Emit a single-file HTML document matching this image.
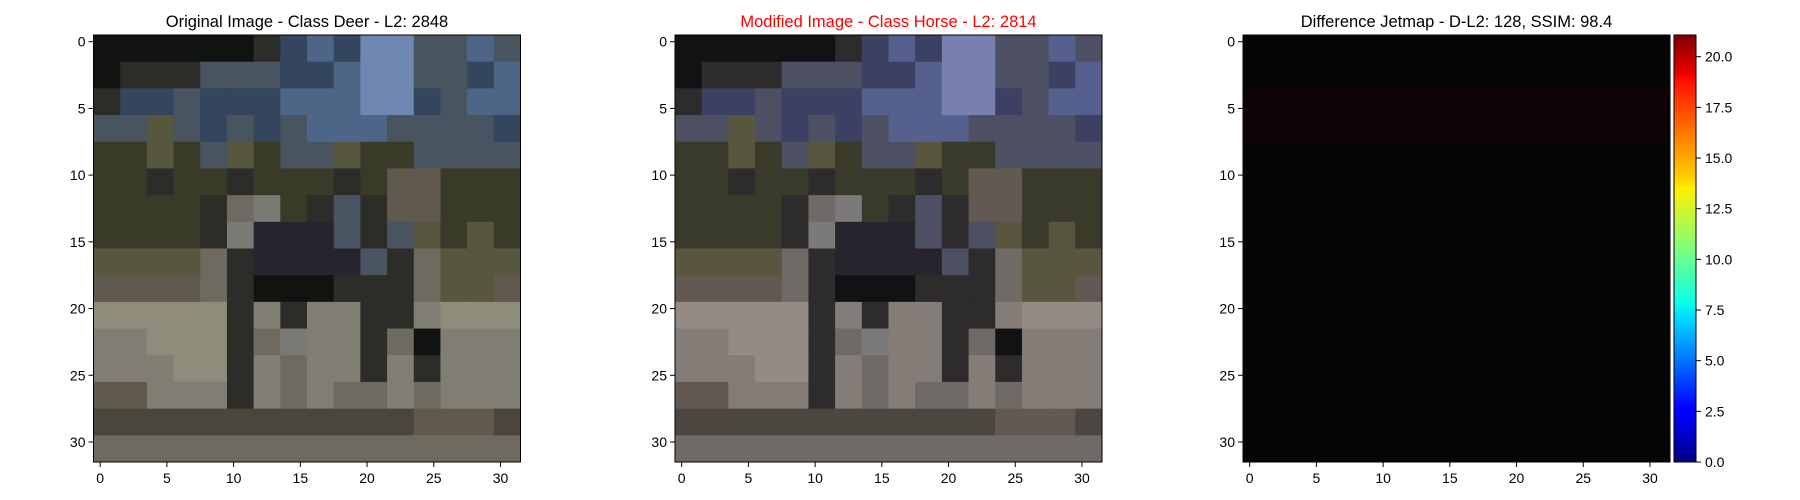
<!DOCTYPE html>
<html><head><meta charset="utf-8"><style>
html,body{margin:0;padding:0;background:#fff;}
svg{display:block;font-family:"Liberation Sans","DejaVu Sans",sans-serif;}
</style></head><body>
<svg id="fig" width="1800" height="500" viewBox="0 0 1800 500" xmlns="http://www.w3.org/2000/svg"></svg>
<script>
// 16x16 coarse approximation (each char = 2x2 source pixels)
const origRows = [
 "KKKKKKDNBNLLSSBS",
 "KDDDSSSNNBLLSSNB",
 "DNNSNNNBBBLLNSBB",
 "SSOSNSNSBBBSSSSN",
 "GGOGSOGSSOGGSSSS",
 "GGDGGDGGGDGRRGGG",
 "GGGGDMgGDSDRRGGG",
 "GGGGDgdddSDSOGOG",
 "OOOOMDddddSDMOOO",
 "RRRRMDKKKDDDMOOR",
 "WWWWWDPDPPDDPWWW",
 "PPWWWDMgPPDMKPPP",
 "PPPWWDPMPPDPDPPP",
 "RRPPPDPMPMMPMPPP",
 "EEEEEEEEEEEERRRE",
 "MMMMMMMMMMMMMMMM"
];
const palOrig = {K:"#111311",D:"#2c2c28",B:"#4d6688",L:"#6e88b2",N:"#34455e",S:"#485460",G:"#3a3a28",O:"#57573e",M:"#6e6a60",W:"#8e8c7a",P:"#807e72",d:"#26242e",g:"#7a7a74",R:"#605a4e",E:"#4a463c"};
const palMod = {K:"#121214",D:"#2d2b2c",B:"#56608e",L:"#7880b0",N:"#3c4062",S:"#4c5062",G:"#3a3a2a",O:"#58563e",M:"#706a66",W:"#948c84",P:"#847c76",d:"#28242e",g:"#7c7a78",R:"#625a52",E:"#4c4640"};
const diffRows = ["e","e","f","f","e","e","e","e","e","e","e","e","e","e","e","e"];
const palDiff = {e:"#060506",f:"#0f0305"};
const cbTicks = [0,2.5,5,7.5,10,12.5,15,17.5,20];
const cbMax = 21.07;
const axTicks = [0,5,10,15,20,25,30];

const NS="http://www.w3.org/2000/svg";
const svg=document.getElementById('fig');
function mk(t,a,p){const e=document.createElementNS(NS,t);for(const k in a)e.setAttribute(k,a[k]);(p||svg).appendChild(e);return e;}

const AX=[{x:93.5,title:"Original Image - Class Deer - L2: 2848",color:"#000",rows:origRows,pal:palOrig,n:"original"},
          {x:675,title:"Modified Image - Class Horse - L2: 2814",color:"#ff0000",rows:origRows,pal:palMod,n:"modified"},
          {x:1243,title:"Difference Jetmap - D-L2: 128, SSIM: 98.4",color:"#000",rows:diffRows,pal:palDiff,n:"difference"}];
const topY=35, size=427, cell=size/32;
function px(ax,v){return ax.x+(v+0.5)*cell;}
function py(v){return topY+(v+0.5)*cell;}

AX.forEach(ax=>{
  const g=mk('g',{});
  
  
  const img=mk('g',{},g);
  
  
  ax.rows.forEach((row,r)=>{
    for(let c=0;c<16;c++){
      const ch=row.length>1?row[c]:row;
      const rc=mk('rect',{x:ax.x+c*2*cell,y:topY+r*2*cell,width:2*cell+0.5,height:2*cell+0.5,fill:ax.pal[ch]},img);
      
      
    }
  });
  const fr=mk('rect',{x:ax.x,y:topY,width:size,height:size,fill:'none',stroke:'#000','stroke-width':1},g);
  
  
  const t=mk('text',{x:ax.x+size/2,y:27,'text-anchor':'middle','font-size':'16.5px',fill:ax.color},g);
  t.textContent=ax.title;
  
  
  axTicks.forEach(v=>{
    const X=px(ax,v);
    mk('line',{x1:X,x2:X,y1:topY+size,y2:topY+size+5,stroke:'#000'},g);
    const tx=mk('text',{x:X,y:483,'text-anchor':'middle','font-size':'14px'},g);
    tx.textContent=v;
    
    
    const Y=py(v);
    mk('line',{x1:ax.x-5,x2:ax.x,y1:Y,y2:Y,stroke:'#000'},g);
    const ty=mk('text',{x:ax.x-8,y:Y+5,'text-anchor':'end','font-size':'14px'},g);
    ty.textContent=v;
    
    
  });
});

// colorbar
const cb=mk('g',{});


const defs=mk('defs',{},cb);
const lg=mk('linearGradient',{id:'jet',x1:0,y1:1,x2:0,y2:0},defs);
[["0","#00007f"],["0.11","#0000ff"],["0.125","#0000ff"],["0.34","#00dcff"],["0.375","#0dffe9"],["0.5","#7dff7a"],["0.64","#fff000"],["0.66","#ffd500"],["0.89","#ff1300"],["0.91","#ed0000"],["1","#7f0000"]].forEach(s=>mk('stop',{offset:s[0],'stop-color':s[1]},lg));
const cbx=1674, cbw=22;
const cbr=mk('rect',{x:cbx,y:topY,width:cbw,height:size,fill:'url(#jet)',stroke:'#000','stroke-width':1},cb);


cbTicks.forEach(v=>{
  const Y=topY+size-v/cbMax*size;
  mk('line',{x1:cbx+cbw,x2:cbx+cbw+5,y1:Y,y2:Y,stroke:'#000'},cb);
  const t=mk('text',{x:cbx+cbw+9,y:Y+5,'font-size':'14px'},cb);
  t.textContent=v.toFixed(1);
  
  
});
</script>
</body></html>
